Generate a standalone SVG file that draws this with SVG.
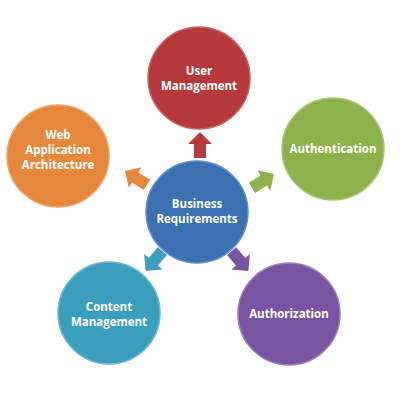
<svg xmlns="http://www.w3.org/2000/svg" width="400" height="400" viewBox="0 0 400 400">
<defs>
<style>
.lbl{font-family:"Open Sans",Lato,"Liberation Sans",sans-serif;font-weight:bold;font-size:11.5px;fill:#ffffff;text-anchor:middle}
.c{stroke-width:1.5}
</style>
<path id="arr" d="M0,-13 L12,-1 L6,-1 L6,13 L-6,13 L-6,-1 L-12,-1 Z"/>
</defs>
<rect width="400" height="400" fill="#ffffff"/>
<g id="connectors">
<use href="#arr" transform="translate(200,145)" fill="#b53a3c"/>
<use href="#arr" transform="translate(136,178) rotate(-58)" fill="#e5883b"/>
<use href="#arr" transform="translate(263,181) rotate(58)" fill="#8db24c"/>
<use href="#arr" transform="translate(154,261) rotate(220)" fill="#3a9fbd"/>
<use href="#arr" transform="translate(240,261) rotate(140)" fill="#7954a0"/>
</g>
<g id="user-management">
<circle class="c" cx="199" cy="78" r="51" fill="#b53a3c" stroke="#c86466"/>
<text class="lbl" x="199" y="75">User</text>
<text class="lbl" x="199" y="90">Management</text>
</g>
<g id="web-application-architecture">
<circle class="c" cx="58" cy="156" r="51" fill="#e5883b" stroke="#eda368"/>
<text class="lbl" x="58" y="139">Web</text>
<text class="lbl" x="58" y="154">Application</text>
<text class="lbl" x="58" y="169">Architecture</text>
</g>
<g id="authentication">
<circle class="c" cx="333" cy="149" r="51" fill="#8db24c" stroke="#a8c475"/>
<text class="lbl" x="333" y="153">Authentication</text>
</g>
<g id="business-requirements">
<circle class="c" cx="197" cy="212" r="51" fill="#3b70b3" stroke="#6890c5"/>
<text class="lbl" x="197" y="208">Business</text>
<text class="lbl" x="197" y="223">Requirements</text>
</g>
<g id="content-management">
<circle class="c" cx="109" cy="313" r="51" fill="#3a9fbd" stroke="#6bb8cf"/>
<text class="lbl" x="109" y="311">Content</text>
<text class="lbl" x="109" y="326">Management</text>
</g>
<g id="authorization">
<circle class="c" cx="289" cy="314" r="51" fill="#7954a0" stroke="#9a7fb8"/>
<text class="lbl" x="289" y="318">Authorization</text>
</g>
</svg>
